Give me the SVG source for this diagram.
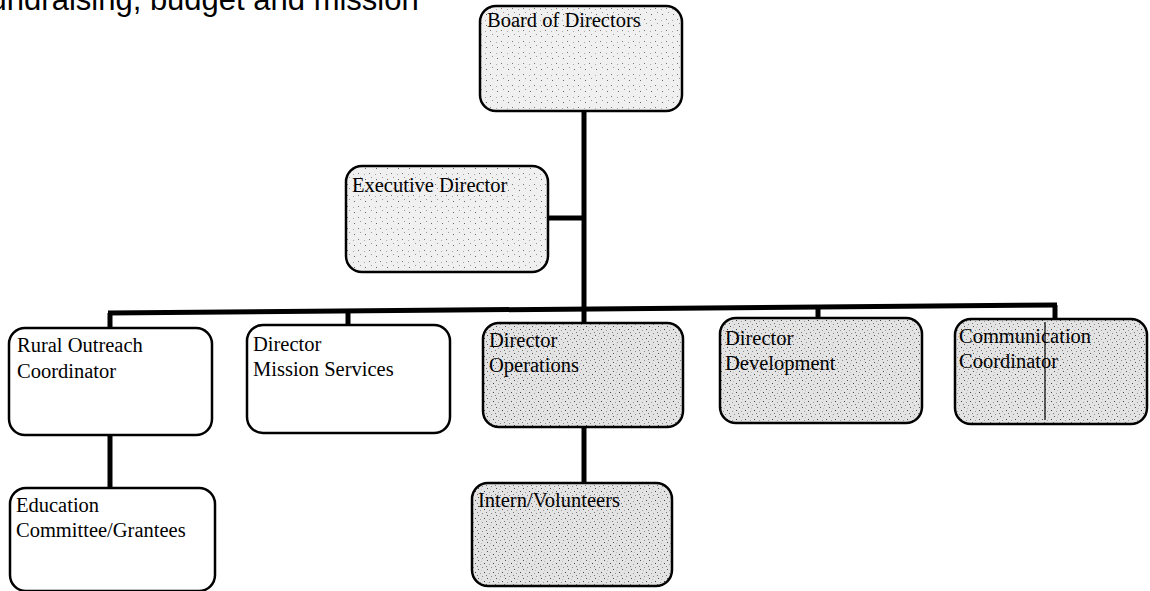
<svg xmlns="http://www.w3.org/2000/svg" width="1150" height="591" viewBox="0 0 1150 591">
<style>
.box{stroke:#000;stroke-width:2.5}
.plain{fill:#fff}
.dots{fill:url(#stip)}
.light{fill:url(#stipL)}
.lbl{font-family:"Liberation Serif","Times New Roman",serif;font-size:20.5px;fill:#000}
.conn{stroke:#000;stroke-width:5;fill:none}
</style>
<defs>
<pattern id="stip" width="9" height="9" patternUnits="userSpaceOnUse">
<rect width="9" height="9" fill="#e3e3e3"/>
<rect x="1" y="2" width="1" height="1" fill="#555"/>
<rect x="5" y="0" width="1" height="1" fill="#888"/>
<rect x="7" y="5" width="1" height="1" fill="#444"/>
<rect x="3" y="6" width="1" height="1" fill="#999"/>
<rect x="4" y="3" width="1" height="1" fill="#bbb"/>
<rect x="0" y="8" width="1" height="1" fill="#777"/>
</pattern>
<pattern id="stipL" width="11" height="11" patternUnits="userSpaceOnUse">
<rect width="11" height="11" fill="#f0f0f0"/>
<rect x="2" y="3" width="1" height="1" fill="#666"/>
<rect x="8" y="1" width="1" height="1" fill="#999"/>
<rect x="6" y="8" width="1" height="1" fill="#777"/>
<rect x="1" y="9" width="1" height="1" fill="#aaa"/>
</pattern>
</defs>
<text x="-19" y="10" font-family="Liberation Sans, Arial, sans-serif" font-size="31" fill="#000">fundraising, budget and mission</text>
<g id="connectors">
<line class="conn" x1="584" y1="111" x2="584" y2="323"/>
<line class="conn" x1="548" y1="218" x2="584" y2="218"/>
<line class="conn" x1="108" y1="313" x2="1057" y2="305"/>
<line class="conn" x1="110" y1="313" x2="110" y2="328"/>
<line class="conn" x1="348" y1="311" x2="348" y2="325"/>
<line class="conn" x1="818" y1="308" x2="818" y2="318"/>
<line class="conn" x1="1055" y1="305" x2="1055" y2="319"/>
<line class="conn" x1="584" y1="427" x2="584" y2="483"/>
<line class="conn" x1="110" y1="435" x2="110" y2="488"/>
</g>
<g id="board">
<rect class="box light" x="480" y="6" width="202" height="105" rx="16"/>
<text class="lbl" x="487" y="27">Board of Directors</text>
</g>
<g id="executive">
<rect class="box light" x="346" y="166" width="202" height="106" rx="16"/>
<text class="lbl" x="352" y="192">Executive Director</text>
</g>
<g id="rural">
<rect class="box plain" x="9" y="328" width="203" height="107" rx="16"/>
<text class="lbl" x="17" y="352">Rural Outreach</text>
<text class="lbl" x="17" y="378">Coordinator</text>
</g>
<g id="mission">
<rect class="box plain" x="247" y="325" width="203" height="108" rx="16"/>
<text class="lbl" x="253" y="351">Director</text>
<text class="lbl" x="253" y="376">Mission Services</text>
</g>
<g id="operations">
<rect class="box dots" x="483" y="323" width="200" height="104" rx="16"/>
<text class="lbl" x="489" y="347">Director</text>
<text class="lbl" x="489" y="372">Operations</text>
</g>
<g id="development">
<rect class="box dots" x="720" y="318" width="202" height="105" rx="16"/>
<text class="lbl" x="725" y="345">Director</text>
<text class="lbl" x="725" y="370">Development</text>
</g>
<g id="communication">
<rect class="box dots" x="955" y="319" width="192" height="105" rx="16"/>
<line x1="1045" y1="322" x2="1045" y2="420" stroke="#000" stroke-width="1.2"/>
<text class="lbl" x="959" y="343">Communication</text>
<text class="lbl" x="959" y="368">Coordinator</text>
</g>
<g id="intern">
<rect class="box dots" x="472" y="483" width="200" height="103" rx="16"/>
<text class="lbl" x="478" y="507">Intern/Volunteers</text>
</g>
<g id="education">
<rect class="box plain" x="10" y="488" width="205" height="103" rx="16"/>
<text class="lbl" x="16" y="512">Education</text>
<text class="lbl" x="16" y="537">Committee/Grantees</text>
</g>
</svg>
